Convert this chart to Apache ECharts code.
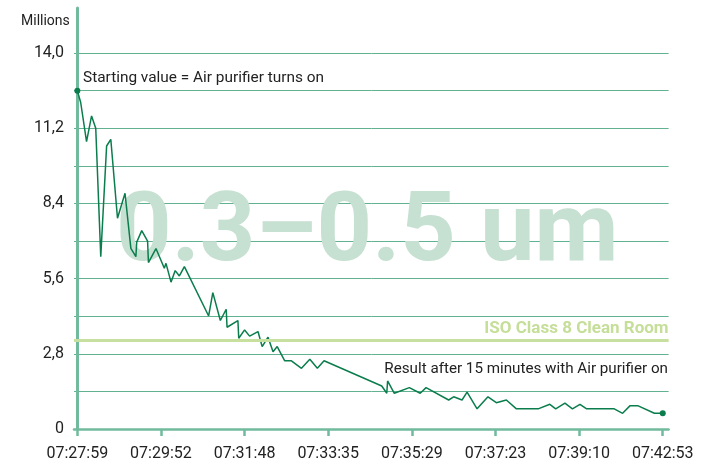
<!DOCTYPE html>
<html>
<head>
<meta charset="utf-8">
<script src="https://cdn.jsdelivr.net/npm/echarts@6/dist/echarts.min.js"></script>
<style>
html,body{margin:0;padding:0;background:#fff;}
#chart{width:708px;height:468px;}
</style>
</head>
<body>
<div id="chart"></div>
<script>
// Tick labels (time stamps) at every 100th sample index
const timeLabels = ['07:27:59','07:29:52','07:31:48','07:33:35','07:35:29','07:37:23','07:39:10','07:42:53'];
const tickIndex = [0, 100, 200, 300, 400, 500, 600, 700];

// Sample index and particle count (millions), 0.3–0.5 um
const sampleIndex = [0, 4, 11, 17, 22, 28, 35, 40, 48, 57, 64, 70, 71, 77, 84, 85, 94, 104, 106, 112, 117, 122, 128,
  157, 162, 171, 178, 179, 192, 193, 200, 206, 216, 221, 228, 234, 239, 248, 256, 268, 278, 287, 295,
  364, 370, 371, 379, 397, 410, 417, 444, 450, 460, 466, 478, 491, 501, 513, 525, 551, 565, 572, 583, 592,
  601, 609, 642, 652, 661, 670, 690, 700];
const particles = [12.6, 12.16, 10.70, 11.66, 11.20, 6.42, 10.54, 10.79, 7.85, 8.78, 6.73, 6.42, 6.96, 7.39, 7.00, 6.20, 6.72, 5.99, 6.17, 5.47, 5.90, 5.70, 6.05,
  4.21, 5.08, 4.04, 4.46, 3.79, 4.04, 3.38, 3.69, 3.46, 3.63, 3.07, 3.42, 2.88, 3.07, 2.54, 2.54, 2.26, 2.60, 2.26, 2.54,
  1.60, 1.33, 1.79, 1.33, 1.54, 1.33, 1.54, 1.08, 1.20, 1.08, 1.37, 0.75, 1.20, 0.98, 1.08, 0.75, 0.75, 0.92, 0.75, 0.96, 0.75,
  0.92, 0.75, 0.75, 0.585, 0.87, 0.87, 0.585, 0.585];

const isoClass8 = 3.3;
const yTicks = [0, 2.8, 5.6, 8.4, 11.2, 14.0];

const FONT = 'Roboto';
const gridColor = '#62b191';
const axisColor = '#72ba9d';
const lineColor = '#0b7d4d';

const seriesData = sampleIndex.map((x, i) => [x, particles[i]]);
const lastI = seriesData.length - 1;

const splitColors = [];
for (let v = 0; v <= 15.4 + 1e-9; v += 1.4) splitColors.push(v <= 14.0 + 1e-6 ? gridColor : 'rgba(0,0,0,0)');
splitColors.push('rgba(0,0,0,0)');

const chart = echarts.init(document.getElementById('chart'), null, {renderer: 'canvas'});
chart.setOption({
  animation: false,
  backgroundColor: '#fff',
  textStyle: {fontFamily: FONT},
  grid: {left: 74, right: 39.4, top: 8, bottom: 39, containLabel: false},
  title: {
    text: 'Millions', left: 16, top: 9,
    textStyle: {fontFamily: FONT, fontSize: 14, fontWeight: 'normal', color: '#222'}
  },
  graphic: [
    {
      type: 'text', left: 116, top: 187, z: 1, silent: true,
      style: {text: '0.3–0.5 um', fontFamily: FONT, fontWeight: 'bold', fontSize: 97, fill: '#c6e0d2'}
    },
    {
      type: 'text', left: 83, top: 71, z: 5,
      style: {text: 'Starting value = Air purifier turns on', fontFamily: FONT, fontSize: 15.4, fill: '#222'}
    },
    {
      type: 'text', right: 40, top: 362, z: 5,
      style: {text: 'Result after 15 minutes with Air purifier on', fontFamily: FONT, fontSize: 15.2, fill: '#222'}
    }
  ],
  xAxis: {
    type: 'value', min: -4, max: 707,
    splitLine: {show: false},
    axisLine: {show: true, onZero: false, lineStyle: {color: axisColor, width: 2.5}},
    axisTick: {show: true, customValues: tickIndex, length: 7, lineStyle: {color: axisColor, width: 2.5}},
    axisLabel: {
      customValues: tickIndex, margin: 17, fontFamily: FONT, fontSize: 16, color: '#222',
      formatter: v => timeLabels[tickIndex.indexOf(v)] || ''
    }
  },
  yAxis: {
    type: 'value', min: 0, max: 15.68, interval: 1.4,
    axisLine: {show: true, lineStyle: {color: axisColor, width: 3}},
    axisTick: {show: false},
    splitLine: {show: true, lineStyle: {color: splitColors, width: 1}},
    axisLabel: {
      margin: 10, fontFamily: FONT, fontSize: 16, color: '#222', showMaxLabel: false,
      formatter: v => {
        const hit = yTicks.find(t => Math.abs(t - v) < 1e-6);
        if (hit === undefined) return '';
        return hit === 0 ? '0' : hit.toFixed(1).replace('.', ',');
      }
    }
  },
  series: [{
    type: 'line',
    data: seriesData,
    z: 3,
    lineStyle: {color: lineColor, width: 1.5},
    itemStyle: {color: lineColor},
    symbol: 'circle',
    symbolSize: (val, p) => (p.dataIndex === 0 || p.dataIndex === lastI) ? 6 : 0,
    showSymbol: true,
    showAllSymbol: true,
    markLine: {
      silent: true, symbol: 'none',
      lineStyle: {color: '#c7df9f', width: 3, type: 'solid'},
      label: {
        show: true, position: 'insideEndTop', formatter: 'ISO Class 8 Clean Room',
        fontFamily: FONT, fontWeight: 'bold', fontSize: 17, color: '#c5de98', distance: [0, 3]
      },
      data: [{yAxis: isoClass8}]
    }
  }]
});
</script>
</body>
</html>
